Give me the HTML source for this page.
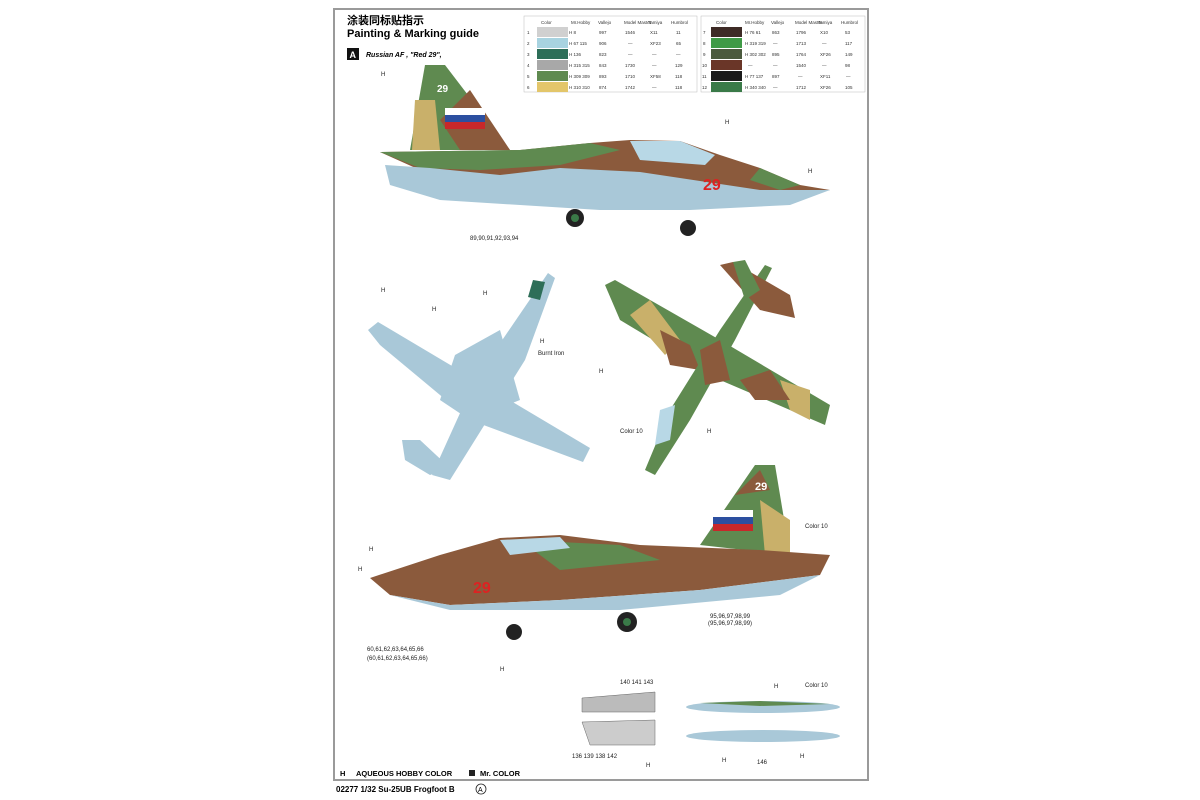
<!DOCTYPE html>
<html><head><meta charset="utf-8"><style>
body{margin:0;background:#fff;width:1200px;height:800px;overflow:hidden;font-family:"Liberation Sans","Noto Sans CJK SC",sans-serif}
svg{position:absolute;left:0;top:0}
</style></head><body>
<svg width="1200" height="800" viewBox="0 0 1200 800" font-family="Liberation Sans, Noto Sans CJK SC, sans-serif">
<rect x="334" y="9" width="534" height="771" fill="#fff" stroke="#9a9a9a" stroke-width="2"/>
<text x="347" y="24" font-size="11" font-weight="bold">涂装同标贴指示</text>
<text x="347" y="37" font-size="11" font-weight="bold">Painting &amp; Marking guide</text>
<rect x="347" y="48" width="12" height="12" fill="#111"/><text x="349.5" y="58" font-size="9" fill="#fff" font-weight="bold">A</text>
<text x="366" y="57" font-size="7" font-style="italic" font-weight="bold">Russian AF , "Red 29",</text>
<g font-size="4.5" fill="#333" stroke="none">
<rect x="524" y="16" width="173" height="76" fill="#fff" stroke="#bbb" stroke-width=".5"/>
<rect x="701" y="16" width="164" height="76" fill="#fff" stroke="#bbb" stroke-width=".5"/>
<rect x="537" y="27" width="31" height="10" fill="#d0d0d0"/>
<rect x="537" y="38" width="31" height="10" fill="#a8d3e0"/>
<rect x="537" y="49" width="31" height="10" fill="#2d6e58"/>
<rect x="537" y="60" width="31" height="10" fill="#a8a8a8"/>
<rect x="537" y="71" width="31" height="10" fill="#5f8a50"/>
<rect x="537" y="82" width="31" height="10" fill="#e3c66a"/>
<rect x="711" y="27" width="31" height="10" fill="#3e2b26"/>
<rect x="711" y="38" width="31" height="10" fill="#3f9a46"/>
<rect x="711" y="49" width="31" height="10" fill="#4b5a3e"/>
<rect x="711" y="60" width="31" height="10" fill="#6a3628"/>
<rect x="711" y="71" width="31" height="10" fill="#1a1a1a"/>
<rect x="711" y="82" width="31" height="10" fill="#3a7a48"/>
<text x="541" y="24">Color</text><text x="571" y="24">Mr.Hobby</text><text x="598" y="24">Vallejo</text><text x="624" y="24">Model Master</text><text x="648" y="24">Tamiya</text><text x="671" y="24">Humbrol</text>
<text x="716" y="24">Color</text><text x="745" y="24">Mr.Hobby</text><text x="771" y="24">Vallejo</text><text x="795" y="24">Model Master</text><text x="818" y="24">Tamiya</text><text x="841" y="24">Humbrol</text>
<text x="527" y="34">1</text><text x="527" y="45">2</text><text x="527" y="56">3</text><text x="527" y="67">4</text><text x="527" y="78">5</text><text x="527" y="89">6</text>
<text x="703" y="34">7</text><text x="703" y="45">8</text><text x="703" y="56">9</text><text x="702" y="67">10</text><text x="702" y="78">11</text><text x="702" y="89">12</text>
<text x="569" y="34">H 8</text><text x="569" y="45">H 67 115</text><text x="569" y="56">H 136</text><text x="569" y="67">H 315 315</text><text x="569" y="78">H 309 309</text><text x="569" y="89">H 310 310</text>
<text x="599" y="34">997</text><text x="599" y="45">906</text><text x="599" y="56">823</text><text x="599" y="67">843</text><text x="599" y="78">893</text><text x="599" y="89">874</text>
<text x="625" y="34">1546</text><text x="628" y="45">—</text><text x="628" y="56">—</text><text x="625" y="67">1730</text><text x="625" y="78">1710</text><text x="625" y="89">1742</text>
<text x="650" y="34">X11</text><text x="650" y="45">XF23</text><text x="652" y="56">—</text><text x="652" y="67">—</text><text x="650" y="78">XF58</text><text x="652" y="89">—</text>
<text x="676" y="34">11</text><text x="676" y="45">65</text><text x="676" y="56">—</text><text x="675" y="67">129</text><text x="675" y="78">118</text><text x="675" y="89">118</text>
<text x="745" y="34">H 76 61</text><text x="745" y="45">H 319 319</text><text x="745" y="56">H 302 302</text><text x="748" y="67">—</text><text x="745" y="78">H 77 137</text><text x="745" y="89">H 340 340</text>
<text x="772" y="34">863</text><text x="773" y="45">—</text><text x="772" y="56">895</text><text x="773" y="67">—</text><text x="772" y="78">897</text><text x="773" y="89">—</text>
<text x="796" y="34">1796</text><text x="796" y="45">1713</text><text x="796" y="56">1764</text><text x="796" y="67">1540</text><text x="798" y="78">—</text><text x="796" y="89">1712</text>
<text x="820" y="34">X10</text><text x="822" y="45">—</text><text x="820" y="56">XF26</text><text x="822" y="67">—</text><text x="820" y="78">XF11</text><text x="820" y="89">XF26</text>
<text x="845" y="34">53</text><text x="845" y="45">117</text><text x="845" y="56">149</text><text x="845" y="67">98</text><text x="846" y="78">—</text><text x="845" y="89">105</text>
</g>
<!-- top side view -->
<g>
<polygon points="410,150 425,65 445,65 510,150" fill="#5f8a50"/>
<polygon points="412,150 415,100 435,100 440,150" fill="#c9b06a"/>
<polygon points="440,120 470,90 510,150 460,150" fill="#8b5a3c"/>
<rect x="445" y="108" width="40" height="7" fill="#fff"/><rect x="445" y="115" width="40" height="7" fill="#2c4fa0"/><rect x="445" y="122" width="40" height="7" fill="#c8282a"/>
<path d="M380,152 L520,150 L590,143 L630,140 L680,141 L720,155 L760,168 L800,185 L830,190 L800,195 L700,200 L620,205 L500,200 L420,170 Z" fill="#8b5a3c"/>
<path d="M380,152 L520,150 L590,143 L620,150 L560,165 L480,170 L420,168 Z" fill="#5f8a50"/>
<path d="M760,168 L800,185 L780,190 L750,180Z" fill="#5f8a50"/>
<path d="M630,141 L680,141 L715,155 L705,165 L640,160Z" fill="#b8d8e6"/>
<path d="M385,165 L430,168 L500,175 L560,168 L640,172 L760,190 L830,190 L790,205 L690,210 L600,210 L520,205 L440,200 L390,185 Z" fill="#a9c8d8"/>
<text x="703" y="190" font-size="16" fill="#d22" font-weight="bold">29</text>
<circle cx="575" cy="218" r="9" fill="#222"/><circle cx="575" cy="218" r="4" fill="#3a7a48"/>
<circle cx="688" cy="228" r="8" fill="#222"/>
<text x="437" y="92" font-size="10" fill="#fff" font-weight="bold">29</text>
</g>
<!-- bottom view -->
<g fill="#a9c8d8">
<polygon points="368,330 378,322 590,448 583,462 470,420 380,345"/>
<polygon points="548,273 555,278 525,360 450,480 432,475 475,380"/>
<polygon points="455,355 500,330 520,400 470,420 440,400"/>
<polygon points="402,440 420,440 450,468 430,475 405,460"/>
</g>
<path d="M533,280 L545,282 L540,300 L528,297Z" fill="#2d6e58"/>
<!-- top view camo -->
<g>
<polygon points="605,285 615,280 720,340 830,405 825,425 720,380 620,320" fill="#5f8a50"/>
<polygon points="630,315 650,300 680,340 665,355" fill="#c9b06a"/>
<polygon points="780,380 810,390 810,420 790,410" fill="#c9b06a"/>
<polygon points="660,330 690,345 700,370 670,365" fill="#8b5a3c"/>
<polygon points="740,380 770,370 790,400 755,400" fill="#8b5a3c"/>
<polygon points="765,265 772,268 735,340 690,420 655,475 645,470 670,410 720,330" fill="#5f8a50"/>
<polygon points="720,265 733,262 790,295 795,318 760,310" fill="#8b5a3c"/>
<polygon points="733,262 745,260 760,290 745,300" fill="#5f8a50"/>
<polygon points="700,350 720,340 730,380 705,385" fill="#8b5a3c"/>
<polygon points="660,410 675,405 670,440 655,445" fill="#b8d8e6"/>
</g>
<!-- lower side view -->
<g>
<polygon points="700,545 755,465 775,465 790,555" fill="#5f8a50"/>
<polygon points="760,500 790,520 790,555 765,555" fill="#c9b06a"/>
<polygon points="735,495 760,470 770,490" fill="#8b5a3c"/>
<rect x="713" y="510" width="40" height="7" fill="#fff"/><rect x="713" y="517" width="40" height="7" fill="#2c4fa0"/><rect x="713" y="524" width="40" height="7" fill="#c8282a"/>
<path d="M370,578 L440,555 L500,538 L560,535 L640,545 L760,550 L830,555 L820,575 L700,590 L560,600 L450,605 L390,595Z" fill="#8b5a3c"/>
<path d="M520,540 L620,545 L660,560 L560,570Z" fill="#5f8a50"/>
<path d="M500,540 L560,537 L570,548 L510,555Z" fill="#b8d8e6"/>
<path d="M390,595 L450,605 L560,600 L700,590 L820,575 L780,595 L620,610 L450,610 Z" fill="#a9c8d8"/>
<text x="473" y="593" font-size="16" fill="#d22" font-weight="bold">29</text>
<text x="755" y="490" font-size="11" fill="#fff" font-weight="bold">29</text>
<circle cx="627" cy="622" r="10" fill="#222"/><circle cx="627" cy="622" r="4" fill="#3a7a48"/>
<circle cx="514" cy="632" r="8" fill="#222"/>
</g>
<polygon points="582,698 655,692 655,712 582,712" fill="#bbb" stroke="#666" stroke-width=".5"/>
<polygon points="582,722 655,720 655,745 590,745" fill="#ccc" stroke="#666" stroke-width=".5"/>
<ellipse cx="763" cy="707" rx="77" ry="6" fill="#a9c8d8"/><path d="M700,703 L760,701 L830,704 L760,706Z" fill="#5f8a50"/>
<ellipse cx="763" cy="736" rx="77" ry="6" fill="#a9c8d8"/>
<g font-size="6" fill="#222">
<text x="381" y="76">H</text><text x="381" y="292">H</text><text x="432" y="311">H</text><text x="483" y="295">H</text><text x="540" y="343">H</text><text x="599" y="373">H</text><text x="707" y="433">H</text><text x="725" y="124">H</text><text x="808" y="173">H</text>
<text x="369" y="551">H</text><text x="358" y="571">H</text><text x="500" y="671">H</text><text x="774" y="688">H</text><text x="646" y="767">H</text><text x="722" y="762">H</text><text x="800" y="758">H</text>
<text x="620" y="433">Color 10</text><text x="805" y="528">Color 10</text><text x="805" y="687">Color 10</text>
<text x="538" y="355">Burnt Iron</text>
<text x="470" y="240">89,90,91,92,93,94</text>
<text x="367" y="651">60,61,62,63,64,65,66</text><text x="367" y="660">(60,61,62,63,64,65,66)</text>
<text x="710" y="618">95,96,97,98,99</text><text x="708" y="625">(95,96,97,98,99)</text>
<text x="620" y="684">140 141 143</text><text x="572" y="758">136 139 138 142</text><text x="757" y="764">146</text>
</g>
<text x="340" y="776" font-size="7.5" font-weight="bold">H</text>
<text x="356" y="776" font-size="7.5" font-weight="bold">AQUEOUS HOBBY COLOR</text>
<rect x="469" y="770" width="6" height="6" fill="#222"/>
<text x="480" y="776" font-size="7.5" font-weight="bold">Mr. COLOR</text>
<text x="336" y="792" font-size="8" font-weight="bold">02277 1/32 Su-25UB Frogfoot B</text>
<circle cx="481" cy="789" r="5" fill="none" stroke="#222" stroke-width=".8"/><text x="478" y="792" font-size="7">A</text>
</svg>
</body></html>
